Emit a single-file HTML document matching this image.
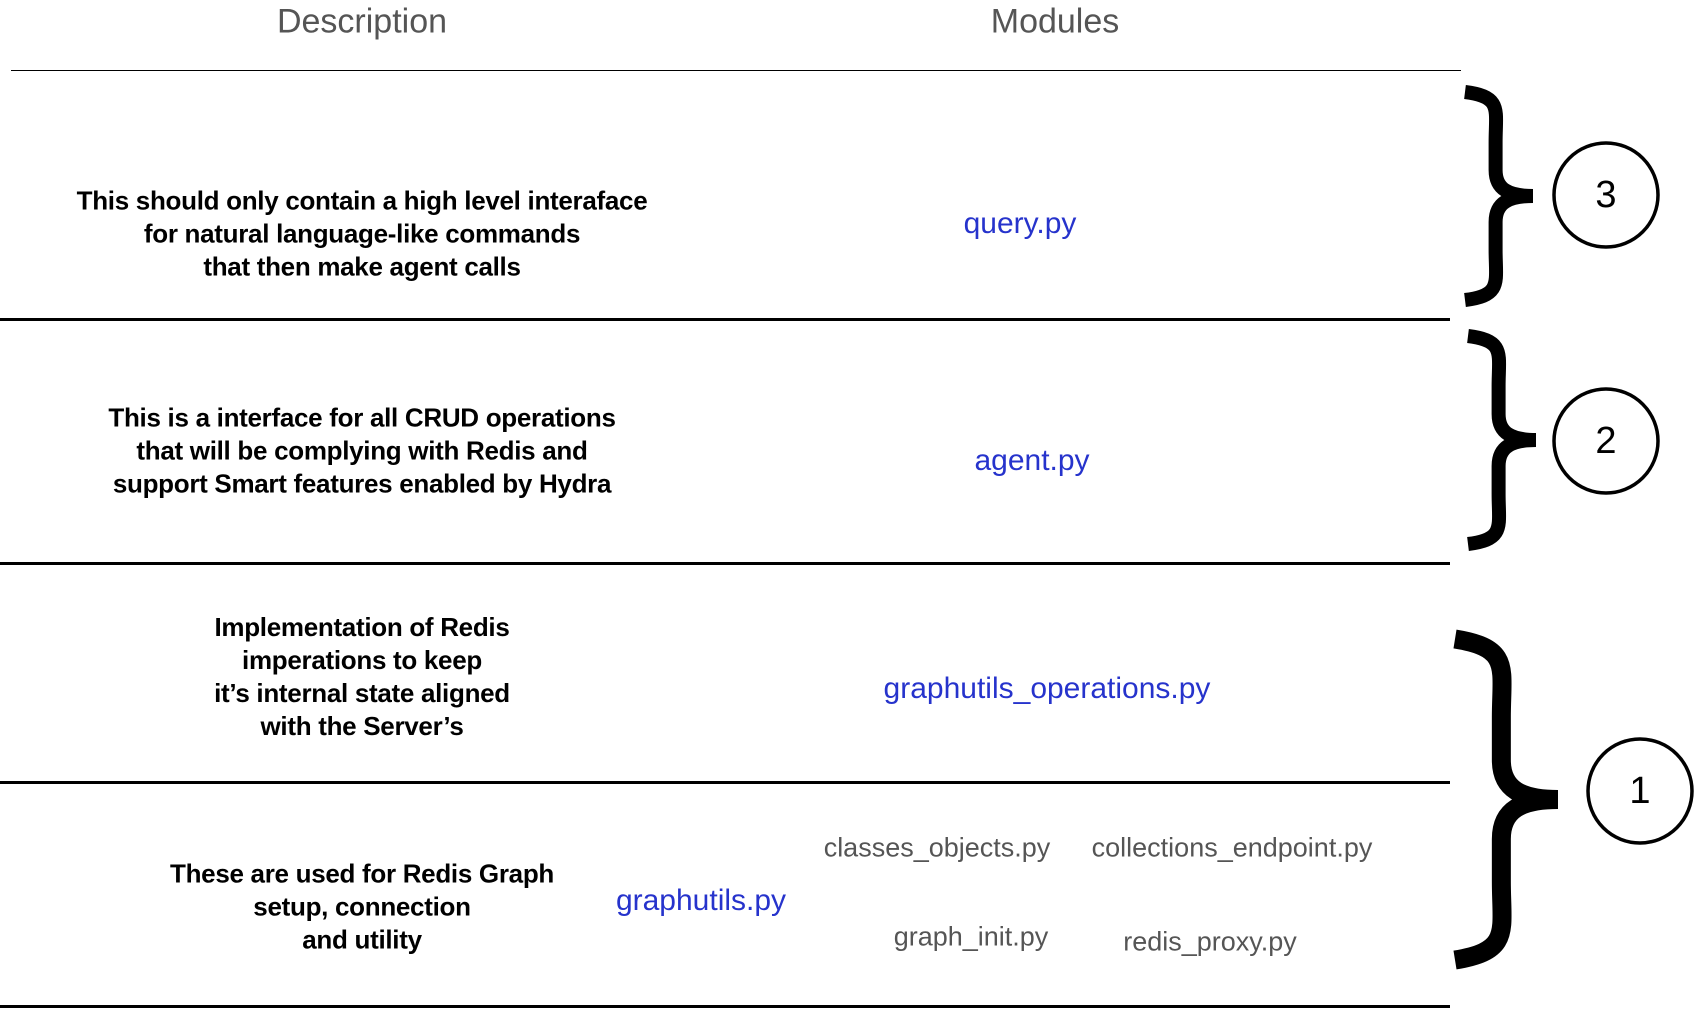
<!DOCTYPE html>
<html><head><meta charset="utf-8"><style>
body{margin:0;width:1696px;height:1033px;background:#fff;position:relative;overflow:hidden;font-family:"Liberation Sans",sans-serif}
.t{position:absolute;transform:translate(-50%,-50%);white-space:nowrap;text-align:center}
.h{font-size:34px;color:#555;font-weight:300}
.d{font-size:26px;font-weight:bold;color:#000;line-height:33px;letter-spacing:-0.3px}
.b{font-size:30px;color:#2633cc}
.g{font-size:27px;color:#555}
.ln{position:absolute;background:#000;left:0;width:1450px;height:3px}
</style></head><body>
<div class="t h" style="left:362px;top:22px">Description</div>
<div class="t h" style="left:1055px;top:22px">Modules</div>
<div class="ln" style="left:11px;width:1450px;top:70px;height:1px"></div>
<div class="ln" style="top:318px"></div>
<div class="ln" style="top:562px"></div>
<div class="ln" style="top:781px"></div>
<div class="ln" style="top:1005px"></div>

<div class="t d" style="left:362px;top:234px">This should only contain a high level interaface<br>for natural language-like commands<br>that then make agent calls</div>
<div class="t b" style="left:1020px;top:224px">query.py</div>

<div class="t d" style="left:362px;top:451px">This is a interface for all CRUD operations<br>that will be complying with Redis and<br>support Smart features enabled by Hydra</div>
<div class="t b" style="left:1032px;top:461px">agent.py</div>

<div class="t d" style="left:362px;top:677px">Implementation of Redis<br>imperations to keep<br>it’s internal state aligned<br>with the Server’s</div>
<div class="t b" style="left:1047px;top:689px">graphutils_operations.py</div>

<div class="t d" style="left:362px;top:907px">These are used for Redis Graph<br>setup, connection<br>and utility</div>
<div class="t b" style="left:701px;top:901px">graphutils.py</div>
<div class="t g" style="left:937px;top:848px">classes_objects.py</div>
<div class="t g" style="left:1232px;top:848px">collections_endpoint.py</div>
<div class="t g" style="left:971px;top:937px">graph_init.py</div>
<div class="t g" style="left:1210px;top:942px">redis_proxy.py</div>

<svg width="1696" height="1033" style="position:absolute;left:0;top:0" id="s">
<circle cx="1606" cy="195" r="52" fill="none" stroke="#000" stroke-width="3.5"/>
<circle cx="1606" cy="441" r="52" fill="none" stroke="#000" stroke-width="3.5"/>
<circle cx="1640" cy="791" r="52" fill="none" stroke="#000" stroke-width="3.5"/>
<text x="1606" y="207" font-size="38" text-anchor="middle" font-family="Liberation Sans">3</text>
<text x="1606" y="453" font-size="38" text-anchor="middle" font-family="Liberation Sans">2</text>
<text x="1640" y="803" font-size="38" text-anchor="middle" font-family="Liberation Sans">1</text>
</svg>
<script>
function brace(x0,x1,y0,y1,sw){
 var w=x1-x0,h=y1-y0,ym=(y0+y1)/2,xm=x0+0.45*w;
 var d="M"+x0+","+(y0+4)+" C"+(x0+0.55*w)+","+(y0+0.04*h)+" "+xm+","+(y0+0.1*h)+" "+xm+","+(y0+0.25*h)+
 " L"+xm+","+(ym-0.12*h)+" C"+xm+","+(ym-0.03*h)+" "+(x0+0.65*w)+","+ym+" "+x1+","+ym+
 " C"+(x0+0.65*w)+","+ym+" "+xm+","+(ym+0.03*h)+" "+xm+","+(ym+0.12*h)+
 " L"+xm+","+(y1-0.25*h)+" C"+xm+","+(y1-0.1*h)+" "+(x0+0.55*w)+","+(y1-0.04*h)+" "+x0+","+(y1-4);
 var p=document.createElementNS("http://www.w3.org/2000/svg","path");
 p.setAttribute("d",d);p.setAttribute("fill","none");p.setAttribute("stroke","#000");p.setAttribute("stroke-width",sw);
 document.getElementById("s").appendChild(p);
}
brace(1465,1533,88,304,14);
brace(1468,1536,332,548,14);
brace(1455,1558,635,964,19);
</script>
</body></html>
